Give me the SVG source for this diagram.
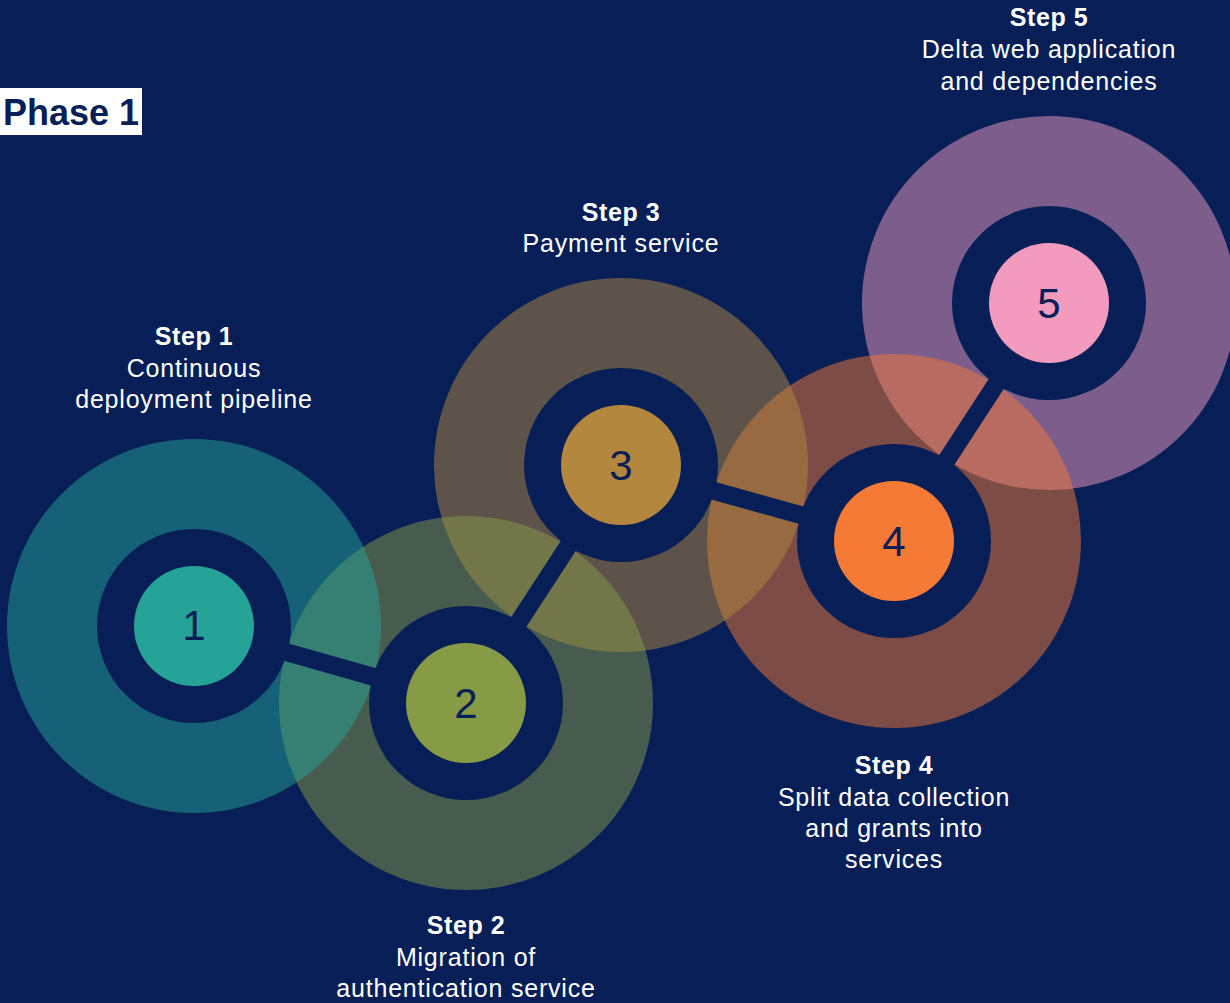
<svg xmlns="http://www.w3.org/2000/svg" width="1230" height="1003" viewBox="0 0 1230 1003">
  <style>
    .bg { fill: #071f56; }
    .halo { opacity: 0.5; }
    .ring { fill: #071f56; }
    .link { stroke: #071f56; stroke-width: 18; fill: none; }
    .num { font-family: "Liberation Sans", Arial, sans-serif; font-size: 42px; fill: #071f56; text-anchor: middle; }
    .label { font-family: "Liberation Sans", Arial, sans-serif; font-size: 25px; fill: #ffffff; text-anchor: middle; letter-spacing: 0.8px; }
    .label .title { font-weight: bold; letter-spacing: 0.6px; }
    .phase-box { fill: #ffffff; }
    .phase-text { font-family: "Liberation Sans", Arial, sans-serif; font-weight: bold; font-size: 36px; fill: #071f56; }
  </style>

  <rect class="bg" x="0" y="0" width="1230" height="1003"/>

  <!-- Phase heading -->
  <g id="phase-1">
    <rect class="phase-box" x="0" y="88" width="142" height="47"/>
    <text class="phase-text" x="3" y="125">Phase 1</text>
  </g>

  <!-- Translucent halos, later steps underneath earlier ones -->
  <g id="halos">
    <circle class="halo" cx="1049" cy="303" r="187" fill="#f29bbf"/>
    <circle class="halo" cx="894" cy="541" r="187" fill="#f47a36"/>
    <circle class="halo" cx="621" cy="465" r="187" fill="#b4873e"/>
    <circle class="halo" cx="466" cy="703" r="187" fill="#879a46"/>
    <circle class="halo" cx="194" cy="626" r="187" fill="#26a397"/>
  </g>

  <!-- Connectors between step rings -->
  <g id="connectors">
    <line class="link" x1="194" y1="626" x2="466" y2="703"/>
    <line class="link" x1="466" y1="703" x2="621" y2="465"/>
    <line class="link" x1="621" y1="465" x2="894" y2="541"/>
    <line class="link" x1="894" y1="541" x2="1049" y2="303"/>
  </g>

  <g id="step-1">
    <circle class="ring" cx="194" cy="626" r="97"/>
    <circle cx="194" cy="626" r="60" fill="#26a397"/>
    <text class="num" x="194" y="640">1</text>
    <text class="label" x="194" y="345"><tspan class="title">Step 1</tspan><tspan x="194" y="377">Continuous</tspan><tspan x="194" y="408">deployment pipeline</tspan></text>
  </g>

  <g id="step-2">
    <circle class="ring" cx="466" cy="703" r="97"/>
    <circle cx="466" cy="703" r="60" fill="#879a46"/>
    <text class="num" x="466" y="718">2</text>
    <text class="label" x="466" y="934"><tspan class="title">Step 2</tspan><tspan x="466" y="966">Migration of</tspan><tspan x="466" y="997">authentication service</tspan></text>
  </g>

  <g id="step-3">
    <circle class="ring" cx="621" cy="465" r="97"/>
    <circle cx="621" cy="465" r="60" fill="#b4873e"/>
    <text class="num" x="621" y="480">3</text>
    <text class="label" x="621" y="221"><tspan class="title">Step 3</tspan><tspan x="621" y="252">Payment service</tspan></text>
  </g>

  <g id="step-4">
    <circle class="ring" cx="894" cy="541" r="97"/>
    <circle cx="894" cy="541" r="60" fill="#f47a36"/>
    <text class="num" x="894" y="556">4</text>
    <text class="label" x="894" y="774"><tspan class="title">Step 4</tspan><tspan x="894" y="806">Split data collection</tspan><tspan x="894" y="837">and grants into</tspan><tspan x="894" y="868">services</tspan></text>
  </g>

  <g id="step-5">
    <circle class="ring" cx="1049" cy="303" r="97"/>
    <circle cx="1049" cy="303" r="60" fill="#f29bbf"/>
    <text class="num" x="1049" y="318">5</text>
    <text class="label" x="1049" y="26"><tspan class="title">Step 5</tspan><tspan x="1049" y="58">Delta web application</tspan><tspan x="1049" y="90">and dependencies</tspan></text>
  </g>
</svg>
